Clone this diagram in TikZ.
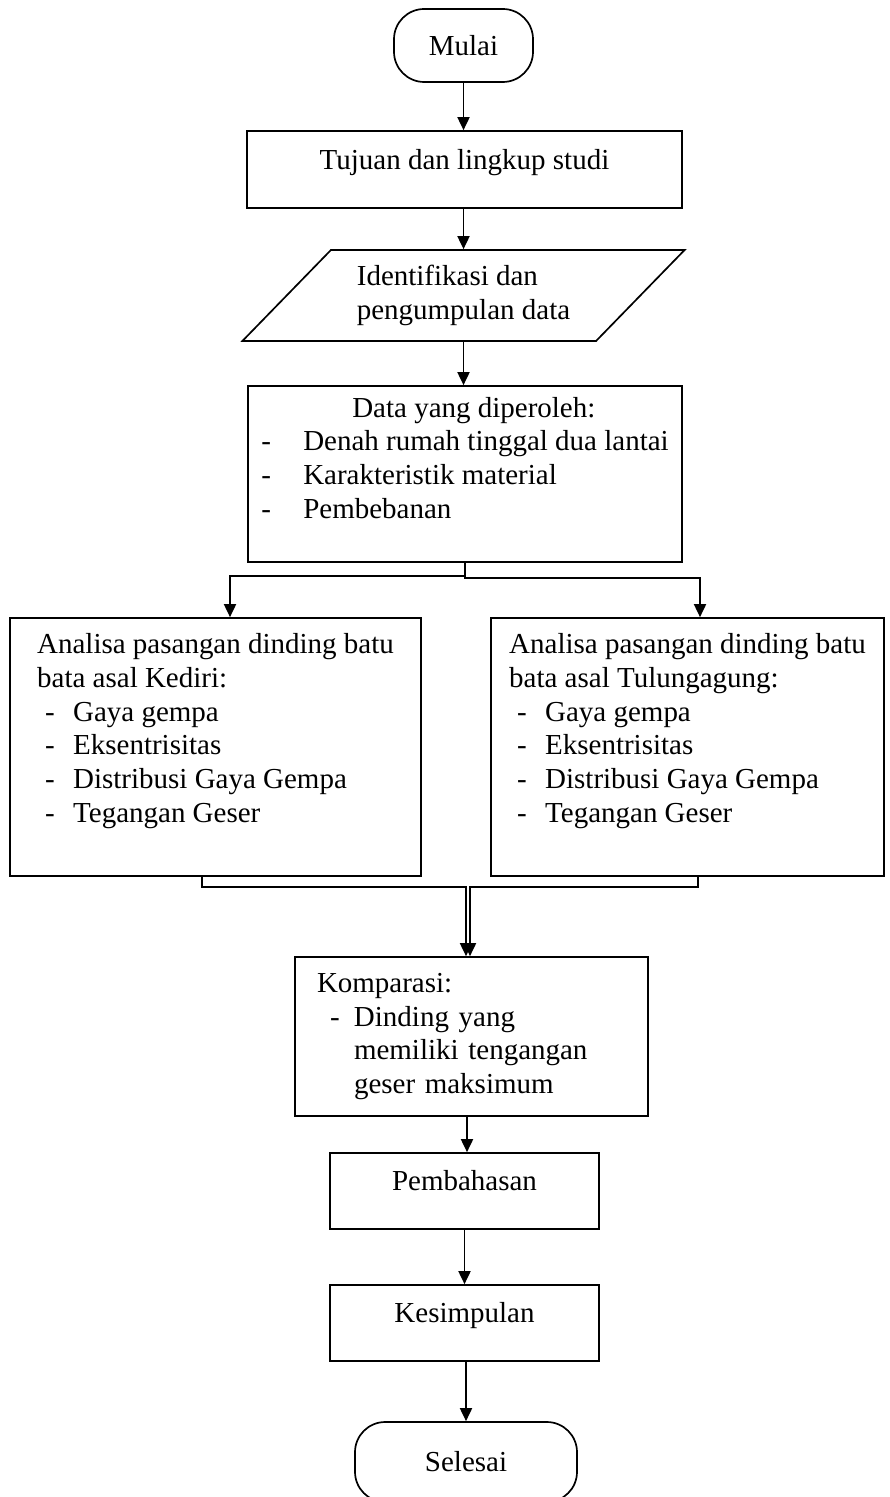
\documentclass[tikz,border=0pt]{standalone}
\usepackage{fontspec}
\setmainfont{Liberation Serif}
\usetikzlibrary{shapes.geometric,arrows.meta,calc}

\newlength\pxl
\setlength\pxl{0.414pt}
% indent, gap to text, text
\newcommand\dashitem[3]{\hspace*{#1\pxl}\makebox[#2\pxl][l]{-}#3}

\begin{document}
\begin{tikzpicture}[x=0.414pt, y=-0.414pt, line width=0.7pt,
                    >={Triangle[length=5.4pt,width=5pt]},
                    every node/.style={font=\fontsize{12}{14}\selectfont},
                    proc node/.style={draw,rectangle,inner sep=3pt},
                    term node/.style={draw,rectangle,rounded corners=12.5pt},
                    io node/.style={draw,trapezium,trapezium left angle=45,
                                    trapezium right angle=135,trapezium stretches=true}]

  \useasboundingbox (0,0) rectangle (889,1497);

  \node[term node,minimum width=139*\pxl,minimum height=73*\pxl] (mulai) at (463.5,45.5) {Mulai};
  \node[proc node,minimum width=435*\pxl,minimum height=77*\pxl,text depth=8.5pt] (tujuan) at (464.5,169.5) {Tujuan dan lingkup studi};
  \node[io node,minimum width=443*\pxl,minimum height=91*\pxl,align=left] (kumpul) at (463.5,295.5) {Identifikasi dan\\pengumpulan data};
  \node[proc node,minimum width=434*\pxl,minimum height=176*\pxl,align=left,text depth=13.5pt] (data) at (465,474)
    {\hspace*{91\pxl}Data yang diperoleh:\\
     \dashitem{0}{42}{Denah rumah tinggal dua lantai}\\
     \dashitem{0}{42}{Karakteristik material}\\
     \dashitem{0}{42}{Pembebanan}};

  \node[proc node,minimum width=411*\pxl,minimum height=258*\pxl,align=left,text depth=15.8pt] (kediri) at (215.5,747)
    {Analisa pasangan dinding batu\\
     bata asal Kediri:\\
     \dashitem{8}{28}{Gaya gempa}\\
     \dashitem{8}{28}{Eksentrisitas}\\
     \dashitem{8}{28}{Distribusi Gaya Gempa}\\
     \dashitem{8}{28}{Tegangan Geser}};
  \node[proc node,minimum width=393*\pxl,minimum height=258*\pxl,align=left,text depth=15.8pt] (tulung) at (687.5,747)
    {Analisa pasangan dinding batu\\
     bata asal Tulungagung:\\
     \dashitem{8}{28}{Gaya gempa}\\
     \dashitem{8}{28}{Eksentrisitas}\\
     \dashitem{8}{28}{Distribusi Gaya Gempa}\\
     \dashitem{8}{28}{Tegangan Geser}};

  \node[proc node,minimum width=353*\pxl,minimum height=159*\pxl,text width=309*\pxl,align=left] (komp) at (471.5,1036.5)
    {Komparasi:\\
     \dashitem{13}{24}{Dinding yang}\\
     \hspace*{37\pxl}memiliki tengangan\\
     \hspace*{37\pxl}geser maksimum};
  \node[proc node,minimum width=269*\pxl,minimum height=76*\pxl,text depth=8.5pt] (bahas) at (464.5,1191) {Pembahasan};
  \node[proc node,minimum width=269*\pxl,minimum height=76*\pxl,text depth=8.5pt] (simpul) at (464.5,1323) {Kesimpulan};
  \node[term node,minimum width=222*\pxl,minimum height=80*\pxl] (selesai) at (466,1462) {Selesai};

  \draw[->] (mulai.south) -- (mulai.south |- tujuan.north);
  \draw[->] (mulai.south |- tujuan.south) -- (mulai.south |- kumpul.north);
  \draw[->] (mulai.south |- kumpul.south) -- (mulai.south |- data.north);

  % split to both analyses
  \draw[->] (data.south) -- ++(0,13) -| ($(kediri.north)+(14.5,0)$);
  \draw[->] (data.south) -- ++(0,15) -| ($(tulung.north)+(12.5,0)$);

  % join into comparison
  \draw[->] ($(kediri.south)+(-13.5,0)$) -- ++(0,10) -| ($(komp.north)+(-5.5,0)$);
  \draw[->] ($(tulung.south)+(10.5,0)$) -- ++(0,10) -| ($(komp.north)+(-1.5,0)$);

  \draw[->] ($(komp.south)+(-4.5,0)$) -- ($(komp.south |- bahas.north)+(-4.5,0)$);
  \draw[->] (bahas.south) -- (bahas.south |- simpul.north);
  \draw[->] ($(simpul.south)+(1.5,0)$) -- ($(simpul.south |- selesai.north)+(1.5,0)$);

\end{tikzpicture}
\end{document}
